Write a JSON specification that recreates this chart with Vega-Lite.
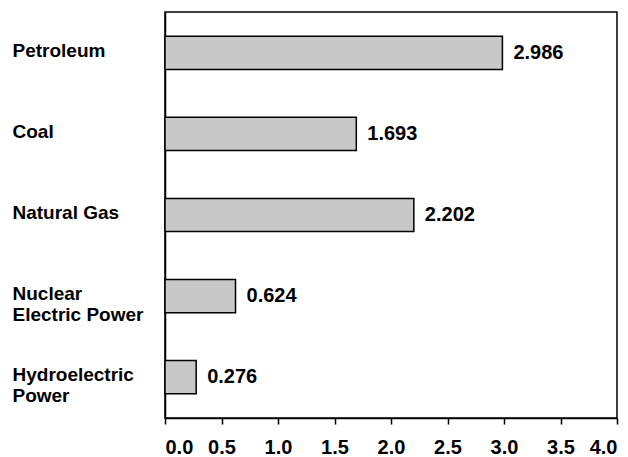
{
  "$schema": "https://vega.github.io/schema/vega-lite/v6.json",
  "autosize": "none",
  "padding": {"left": 165, "top": 12, "right": 11, "bottom": 39},
  "width": 452,
  "height": 406,
  "background": "white",
  "config": {
    "view": {"stroke": "black", "strokeWidth": 1.5},
    "font": "Liberation Sans"
  },
  "data": {
    "values": [
      {"source": "Petroleum", "value": 2.986},
      {"source": "Coal", "value": 1.693},
      {"source": "Natural Gas", "value": 2.202},
      {"source": "Nuclear|Electric Power", "value": 0.624},
      {"source": "Hydroelectric|Power", "value": 0.276}
    ]
  },
  "encoding": {
    "y": {
      "field": "source",
      "type": "nominal",
      "sort": null,
      "scale": {"paddingInner": 0.59, "paddingOuter": 0.3},
      "axis": {
        "title": null,
        "ticks": false,
        "domainColor": "black",
        "domainWidth": 1.5,
        "labelAlign": "left",
        "labelPadding": 153,
        "labelFontSize": 19,
        "labelFontWeight": "bold",
        "labelColor": "black",
        "labelLineHeight": 21,
        "labelOffset": -2,
        "labelExpr": "split(datum.value, '|')"
      }
    }
  },
  "layer": [
    {
      "mark": {"type": "bar", "fill": "#c8c8c8", "stroke": "black", "strokeWidth": 1.5},
      "encoding": {
        "x": {
          "field": "value",
          "type": "quantitative",
          "scale": {"domain": [0, 4], "nice": false},
          "axis": {
            "title": null,
            "grid": false,
            "values": [0, 0.5, 1, 1.5, 2, 2.5, 3, 3.5, 4],
            "format": ".1f",
            "tickSize": 6,
            "tickColor": "black",
            "tickWidth": 1.5,
            "domainColor": "black",
            "domainWidth": 1.5,
            "labelFontSize": 20,
            "labelFontWeight": "bold",
            "labelColor": "black",
            "labelPadding": 13,
            "labelFlush": true
          }
        }
      }
    },
    {
      "mark": {"type": "text", "align": "left", "dx": 11, "fontSize": 20, "fontWeight": "bold", "color": "black"},
      "encoding": {
        "x": {"field": "value", "type": "quantitative"},
        "text": {"field": "value", "type": "quantitative", "format": ".3f"}
      }
    }
  ]
}
